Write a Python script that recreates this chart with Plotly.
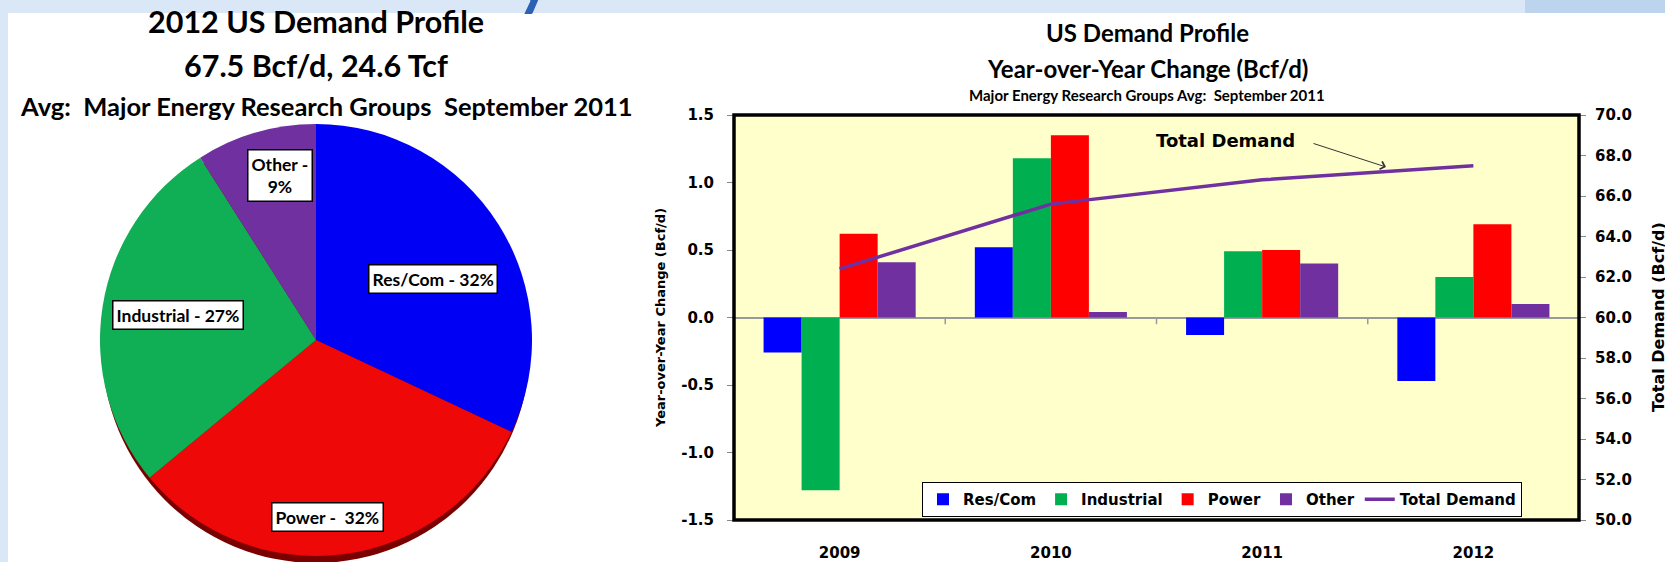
import plotly.graph_objects as go

W, H = 1665, 562

# ---- data ----
pie_labels = ["Res/Com", "Power", "Industrial", "Other"]
pie_pct = [32, 32, 27, 9]
pie_colors = ["#0000F5", "#EE0808", "#10AE55", "#7030A0"]

years = ["2009", "2010", "2011", "2012"]
res_com = [-0.26, 0.52, -0.13, -0.47]
industrial = [-1.28, 1.18, 0.49, 0.30]
power = [0.62, 1.35, 0.50, 0.69]
other = [0.41, 0.04, 0.40, 0.10]
total_demand = [62.4, 65.6, 66.8, 67.5]

left_ticks = [-1.5, -1.0, -0.5, 0.0, 0.5, 1.0, 1.5]
left_tick_text = ["-1.5", "-1.0", "-0.5", "0.0", "0.5", "1.0", "1.5"]


def px(x):
    return x / W


def py(y):
    return 1 - y / H


TITLE_FONT = "Lato"
AX_FONT = "DejaVu Sans"

fig = go.Figure()

# ---- pie ----
cx, cy, r = 316, 340, 216
fig.add_trace(go.Pie(
    labels=pie_labels, values=pie_pct, sort=False, direction="clockwise",
    rotation=0, textinfo="none", hoverinfo="label+percent",
    marker=dict(colors=pie_colors, line=dict(width=0)),
    domain=dict(x=[px(cx - r), px(cx + r)], y=[py(cy + r), py(cy - r)]),
    showlegend=False,
))

# ---- bars ----
bar_series = [("Res/Com", res_com, "#0000FF"), ("Industrial", industrial, "#00B050"),
              ("Power", power, "#FF0000"), ("Other", other, "#7030A0")]
for name, vals, col in bar_series:
    fig.add_trace(go.Bar(x=years, y=vals, name=name, marker=dict(color=col, line=dict(width=0)),
                         xaxis="x", yaxis="y"))
fig.add_trace(go.Scatter(x=years, y=total_demand, name="Total Demand", mode="lines",
                         line=dict(color="#7030A0", width=3.5), xaxis="x", yaxis="y2"))

pl, pr, pt, pb = 734, 1579, 115, 520
tickfont = dict(family=AX_FONT, size=15, color="black", weight="bold")
fig.update_layout(
    width=W, height=H, margin=dict(l=0, r=0, t=0, b=0, autoexpand=False),
    paper_bgcolor="white", plot_bgcolor="#FFFFCC",
    barmode="group", bargap=0.28, bargroupgap=0,
    xaxis=dict(domain=[px(pl), px(pr)], type="category", showgrid=False, ticks="",
               tickfont=tickfont, ticklabelstandoff=22, showline=False, zeroline=False,
               automargin=False),
    yaxis=dict(domain=[py(pb), py(pt)], range=[-1.5, 1.5], tickvals=left_ticks,
               ticktext=left_tick_text,
               showgrid=False, ticks="outside", ticklen=6, tickcolor="#888888",
               tickfont=tickfont, ticklabelstandoff=10, automargin=False,
               zeroline=True, zerolinecolor="#9a9a9a", zerolinewidth=1.5,
               title=dict(text="Year-over-Year Change (Bcf/d)", standoff=12,
                          font=dict(family=AX_FONT, size=13, color="black", weight="bold"))),
    yaxis2=dict(overlaying="y", side="right", range=[50, 70], dtick=2, tickformat=".1f",
                showgrid=False, ticks="outside", ticklen=6, tickcolor="#888888",
                tickfont=tickfont, ticklabelstandoff=6, zeroline=False, automargin=False),
    legend=dict(orientation="h", x=px(922), y=py(482), xanchor="left", yanchor="top",
                bgcolor="white", bordercolor="black", borderwidth=1,
                font=dict(family=AX_FONT, size=15, color="black", weight="bold"),
                itemwidth=30, tracegroupgap=0),
    showlegend=True,
)

shapes = []
# slide background decorations
shapes.append(dict(type="rect", xref="paper", yref="paper", x0=0, x1=1, y0=py(13), y1=1,
                   fillcolor="#D9E7F6", line=dict(width=0), layer="below"))
shapes.append(dict(type="rect", xref="paper", yref="paper", x0=px(1525), x1=1, y0=py(13), y1=1,
                   fillcolor="#BCD4EE", line=dict(width=0), layer="below"))
shapes.append(dict(type="rect", xref="paper", yref="paper", x0=0, x1=px(8), y0=0, y1=1,
                   fillcolor="#D9E7F6", line=dict(width=0), layer="below"))
# pie depth rim (3-D look)
shapes.append(dict(type="circle", xref="paper", yref="paper", x0=px(cx - r + 2), x1=px(cx + r - 2),
                   y0=py(cy + r + 7), y1=py(cy - r + 7), fillcolor="#7A0000",
                   line=dict(width=0), layer="below"))
# plot frame
shapes.append(dict(type="rect", xref="paper", yref="paper", x0=px(pl), x1=px(pr), y0=py(pb), y1=py(pt),
                   line=dict(color="black", width=3.5), layer="above"))
# category tick marks on the zero line
for b in [0.5, 1.5, 2.5]:
    shapes.append(dict(type="line", xref="x", yref="y", x0=b, x1=b, y0=0, y1=-0.05,
                       line=dict(color="#9a9a9a", width=1.5)))
fig.update_layout(shapes=shapes)


def note(text, x, y, size, family=TITLE_FONT, **kw):
    d = dict(text=text, x=px(x), y=py(y), xref="paper", yref="paper", showarrow=False,
             xanchor="center", yanchor="middle",
             font=dict(family=family, size=size, color="black", weight="bold"))
    d.update(kw)
    return d


ann = []
# clipped slide heading glyph at the top
ann.append(dict(text="y", x=px(534), y=py(20), xref="paper", yref="paper", showarrow=False,
                xanchor="center", yanchor="bottom",
                font=dict(family="Lato", size=64, color="#2C62B5", weight="bold")))
# pie titles
ann.append(note("2012 US Demand Profile", 316, 21, 30.5))
ann.append(note("67.5 Bcf/d, 24.6 Tcf", 316, 65, 30.5))
ann.append(note("Avg:  Major Energy Research Groups  September 2011", 326, 106, 25.5))
# pie labels (boxed)
pie_label_pos = [(433, 279), (327, 517), (178, 315), (280, 175)]
pie_texts = [f"{pie_labels[0]} - {pie_pct[0]}%", f"{pie_labels[1]} -  {pie_pct[1]}%",
             f"{pie_labels[2]} - {pie_pct[2]}%", f"{pie_labels[3]} -<br>{pie_pct[3]}%"]
for (lx, ly), t in zip(pie_label_pos, pie_texts):
    ann.append(note(t, lx, ly, 17.5, bgcolor="white", bordercolor="black", borderwidth=1.5,
                    borderpad=3))
# bar chart titles
ann.append(note("US Demand Profile", 1147, 32, 24))
ann.append(note("Year-over-Year Change (Bcf/d)", 1147, 68, 24))
ann.append(note("Major Energy Research Groups Avg:  September 2011", 1147, 95, 15))
# right axis title (clipped at edge like the source)
ann.append(note("Total Demand (Bcf/d)", 1658, 317, 16, family=AX_FONT, textangle=-90))
# Total Demand callout
ann.append(note("Total Demand", 1225, 140, 18, family=AX_FONT))
ann.append(dict(text="", x=px(1386), y=py(167), xref="paper", yref="paper", showarrow=True,
                ax=-74, ay=-24, arrowhead=4, arrowsize=1.6, arrowwidth=1, arrowcolor="#333333",
                standoff=0, startstandoff=0))
fig.update_layout(annotations=ann)

fig.write_html("out.html", config={"displayModeBar": False},
               post_script="document.body.style.margin='0px';document.body.style.padding='0px';")
